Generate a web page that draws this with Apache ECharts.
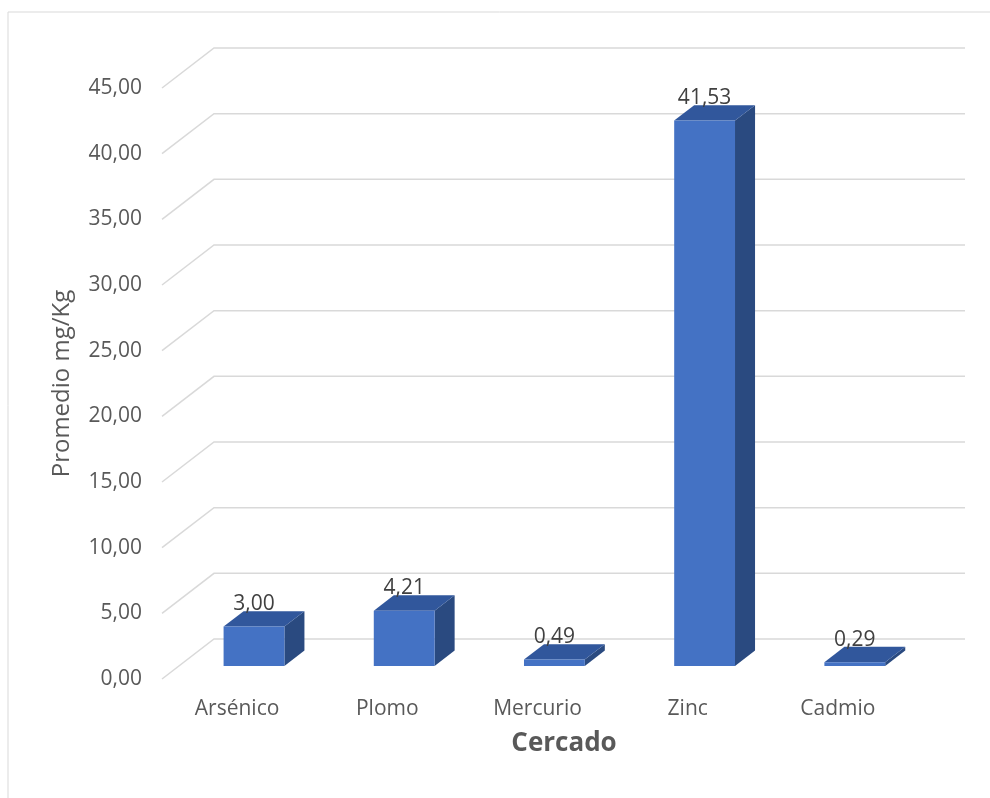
<!DOCTYPE html>
<html>
<head>
<meta charset="utf-8">
<script src="https://cdn.jsdelivr.net/npm/echarts@6/dist/echarts.min.js"></script>
<style>
  html, body { margin: 0; padding: 0; background: #ffffff; }
  #chart { width: 990px; height: 798px; }
</style>
</head>
<body>
<div id="chart"></div>
<script>
// Average metal concentrations (mg/Kg), Cercado
const categories = ['Arsénico', 'Plomo', 'Mercurio', 'Zinc', 'Cadmio'];
const values = [3.00, 4.21, 0.49, 41.53, 0.29];
const yTicks = [0, 5, 10, 15, 20, 25, 30, 35, 40, 45];

// Pseudo-3D depth: offset of the back wall from the front plane (px)
const DEPTH_X = 52;
const DEPTH_Y = 40;
// Bar depth position as fractions of the full depth, measured from the front
const BAR_FRONT = 0.325;
const BAR_BACK = 0.71;
const BAR_RATIO = 0.405;

const FONT = '"Open Sans", "Noto Sans", sans-serif';
const fmt = v => v.toFixed(2).replace('.', ',');

function renderGrid(params, api) {
  const cs = params.coordSys;
  const p = api.coord([0, api.value(1)]);
  const y = p[1];
  return {
    type: 'polyline',
    shape: {
      points: [
        [cs.x, y],
        [cs.x + DEPTH_X, y - DEPTH_Y],
        [cs.x + cs.width + DEPTH_X, y - DEPTH_Y]
      ]
    },
    style: { stroke: '#d9d9d9', lineWidth: 1.5, fill: null },
    silent: true
  };
}

function renderBar(params, api) {
  const i = api.value(0);
  const v = api.value(1);
  const base = api.coord([i, 0]);
  const top = api.coord([i, v]);
  const band = api.size([1, 0])[0];
  const w = band * BAR_RATIO;
  const fdx = DEPTH_X * BAR_FRONT, fdy = DEPTH_Y * BAR_FRONT;
  const bdx = DEPTH_X * BAR_BACK, bdy = DEPTH_Y * BAR_BACK;
  const xl = base[0] + fdx - w / 2;
  const xr = xl + w;
  const yb = base[1] - fdy;
  const yt = top[1] - fdy;
  const ox = bdx - fdx, oy = bdy - fdy;
  return {
    type: 'group',
    children: [
      {
        type: 'polygon',
        shape: { points: [[xr, yb], [xr + ox, yb - oy], [xr + ox, yt - oy], [xr, yt]] },
        style: { fill: '#2a4a80' }
      },
      {
        type: 'polygon',
        shape: { points: [[xl, yt], [xr, yt], [xr + ox, yt - oy], [xl + ox, yt - oy]] },
        style: { fill: '#31579c' }
      },
      {
        type: 'rect',
        shape: { x: xl, y: yt, width: w, height: yb - yt },
        style: { fill: '#4472c4' }
      },
      {
        type: 'text',
        style: {
          text: fmt(v),
          x: (xl + xr) / 2,
          y: yt - oy - 7,
          align: 'center',
          verticalAlign: 'middle',
          fontSize: 21,
          fontFamily: FONT,
          fill: '#404040'
        }
      }
    ]
  };
}

const chart = echarts.init(document.getElementById('chart'), null, { renderer: 'canvas' });
chart.setOption({
  animation: false,
  backgroundColor: '#ffffff',
  grid: { left: 162, right: 77, top: 88, bottom: 119 },
  xAxis: {
    type: 'category',
    data: categories,
    axisLine: { show: false },
    axisTick: { show: false },
    splitLine: { show: false },
    axisLabel: { color: '#595959', fontSize: 21, fontFamily: FONT, margin: 20 }
  },
  yAxis: {
    type: 'value',
    min: 0,
    max: 45,
    interval: 5,
    axisLine: { show: false },
    axisTick: { show: false },
    splitLine: { show: false },
    axisLabel: { color: '#595959', fontSize: 21, fontFamily: FONT, margin: 20, formatter: fmt },
    name: 'Promedio mg/Kg',
    nameLocation: 'middle',
    nameRotate: 90,
    nameGap: 88,
    nameTextStyle: { color: '#595959', fontSize: 24, fontFamily: FONT }
  },
  graphic: [
    {
      type: 'rect',
      shape: { x: 8, y: 12, width: 1000, height: 800 },
      style: { fill: null, stroke: '#d9d9d9', lineWidth: 1 },
      silent: true,
      z: -10
    },
    {
      type: 'text',
      x: 564,
      y: 744,
      style: {
        text: 'Cercado',
        align: 'center',
        verticalAlign: 'middle',
        fontSize: 26,
        fontWeight: 'bold',
        fontFamily: FONT,
        fill: '#595959'
      }
    }
  ],
  series: [
    {
      type: 'custom',
      name: 'grid',
      clip: false,
      silent: true,
      z: 1,
      data: yTicks.map(t => [0, t]),
      renderItem: renderGrid
    },
    {
      type: 'custom',
      name: 'Promedio',
      clip: false,
      z: 2,
      data: values.map((v, i) => [i, v]),
      renderItem: renderBar
    }
  ]
});
</script>
</body>
</html>
